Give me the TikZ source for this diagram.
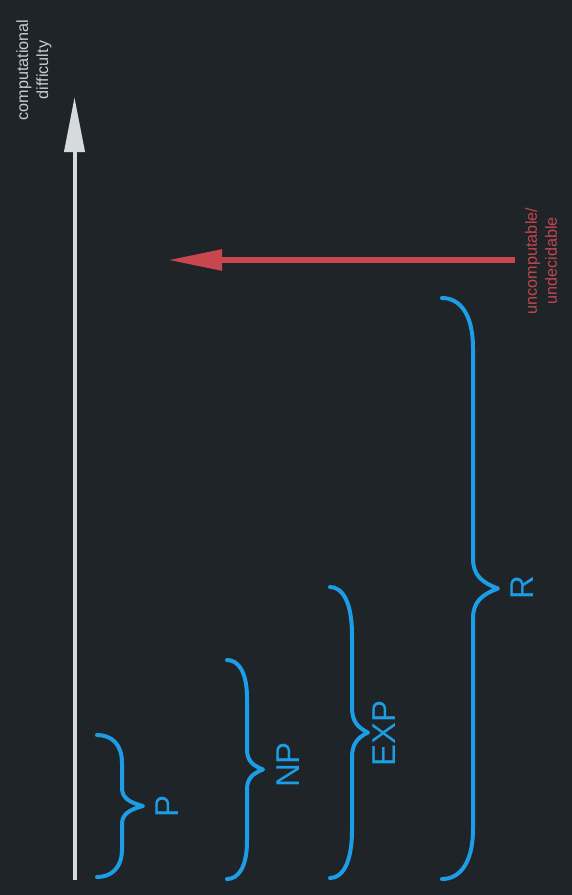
\documentclass[tikz,border=0pt]{standalone}
\usepackage{fontspec}
\setmainfont{Liberation Sans}
\usetikzlibrary{arrows.meta}
\definecolor{bg}{HTML}{1F2428}
\definecolor{axisc}{HTML}{D6DADD}
\definecolor{axtxt}{HTML}{C9CDD1}
\definecolor{brc}{HTML}{1C9DE6}
\definecolor{redc}{HTML}{C8464D}
\definecolor{redtxt}{HTML}{C2474F}
\newcommand\cbrace[7]{%
 \pgfmathsetmacro\cbM{(#4+#5)/2}%
 \pgfmathsetmacro\cbA{#2-#1}%
 \pgfmathsetmacro\cbB{#3-#2}%
 \draw[bracestyle] (#1,#4) .. controls ({#1+0.55*\cbA},#4) and (#2,{#4+0.3*#6}) .. (#2,{#4+#6})
   -- (#2,{\cbM-#7}) .. controls (#2,{\cbM-0.45*#7}) and ({#2+0.35*\cbB},{\cbM-0.2*#7}) .. (#3,\cbM)
   .. controls ({#2+0.35*\cbB},{\cbM+0.2*#7}) and (#2,{\cbM+0.45*#7}) .. (#2,{\cbM+#7})
   -- (#2,{#5-#6}) .. controls (#2,{#5-0.3*#6}) and ({#1+0.55*\cbA},#5) .. (#1,#5);
}
\begin{document}
\begin{tikzpicture}[x=1pt,y=-1pt,
  bracestyle/.style={draw=brc, line width=4pt, line cap=round, line join=round},
  biglabel/.style={rotate=90, inner sep=0pt, text=brc, font=\fontsize{33}{36}\selectfont},
  smalllabel/.style={rotate=90, inner sep=0pt, align=center, font=\fontsize{16.2}{20}\selectfont},
  axisline/.style={draw=axisc, line width=4pt, -{Triangle[length=55pt, width=20pt]}},
  redline/.style={draw=redc, line width=5.5pt, -{Triangle[length=54pt, width=20pt]}}]
\fill[bg] (0,0) rectangle (572,895);
\useasboundingbox (0,0) rectangle (572,895);
% axis
\coordinate (axbot) at (74.5,880);
\coordinate (axtop) at (74.5,97);
\draw[axisline] (axbot) -- (axtop);
\node[smalllabel, text=axtxt] (axlabel) at (34,70) {computational\\difficulty};
% red arrow
\coordinate (redstart) at (515,260);
\coordinate (redend) at (168,260);
\draw[redline] (redstart) -- (redend);
\node[smalllabel, text=redtxt] (unc) at (541,261) {uncomputable/\\undecidable};
% braces
\cbrace{97}{122}{143}{735}{877}{28}{18}
\cbrace{227}{247}{263}{660}{879}{38}{20}
\cbrace{330}{352}{368}{587}{878}{48}{25}
\cbrace{442}{473}{498}{298}{879}{50}{30}
% labels
\node[biglabel] (P) at (167,806) {P};
\node[biglabel] (NP) at (288,765) {NP};
\node[biglabel] (EXP) at (384,733.5) {EXP};
\node[biglabel] (R) at (522,588) {R};
\end{tikzpicture}
\end{document}
